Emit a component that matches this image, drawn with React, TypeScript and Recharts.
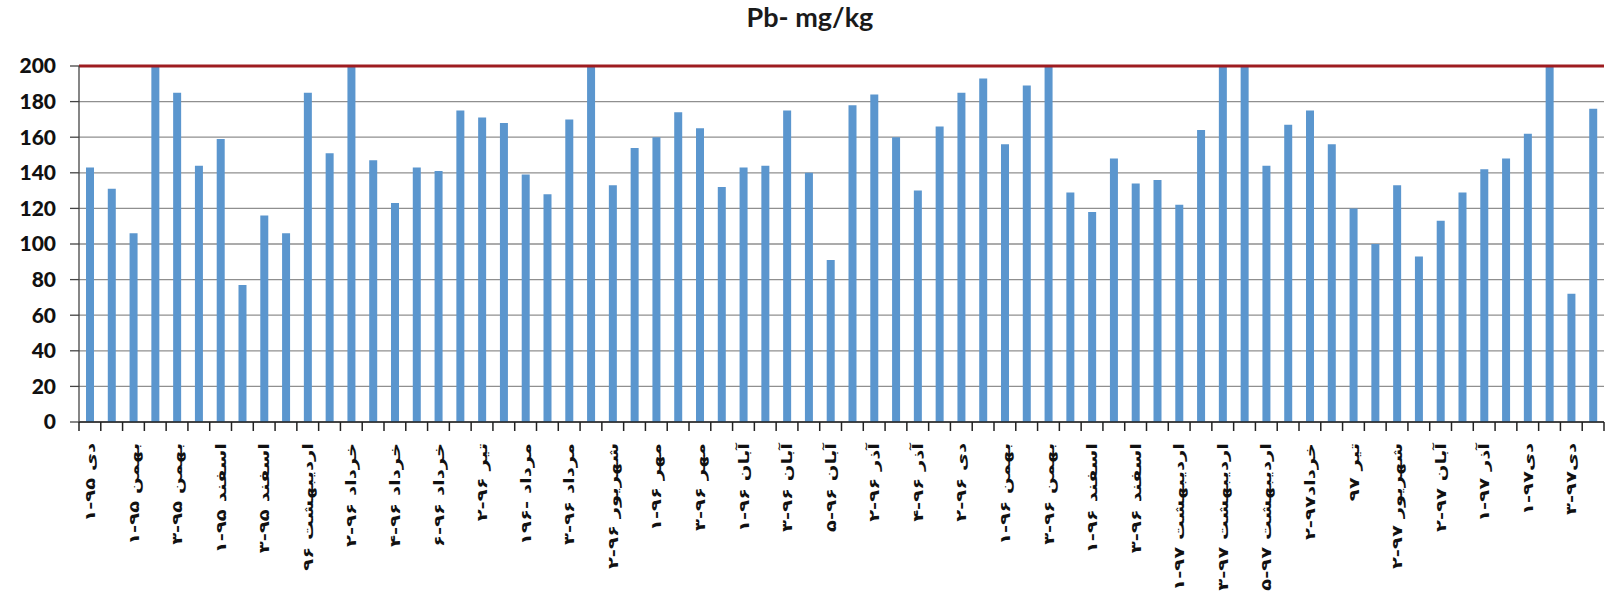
import React from 'react';
import { BarChart, Bar, XAxis, YAxis, CartesianGrid, ReferenceLine } from 'recharts';

if (typeof document !== 'undefined') {
  document.body.style.margin = '0';
}

const categories: string[] = [
  'دی ۹۵-۱', 'دی ۹۵-۲', 'بهمن ۹۵-۱', 'بهمن ۹۵-۲', 'بهمن ۹۵-۳', 'بهمن ۹۵-۴',
  'اسفند ۹۵-۱', 'اسفند ۹۵-۲', 'اسفند ۹۵-۳', 'فروردین ۹۶', 'اردیبهشت ۹۶', 'خرداد ۹۶-۱',
  'خرداد ۹۶-۲', 'خرداد ۹۶-۳', 'خرداد ۹۶-۴', 'خرداد ۹۶-۵', 'خرداد ۹۶-۶', 'تیر ۹۶-۱',
  'تیر ۹۶-۲', 'تیر ۹۶-۳', 'مرداد -۱۹۶', 'مرداد ۹۶-۲', 'مرداد ۹۶-۳', 'شهریور ۹۶-۱',
  'شهریور ۹۶-۲', 'شهریور ۹۶-۳', 'مهر ۹۶-۱', 'مهر ۹۶-۲', 'مهر ۹۶-۳', 'مهر ۹۶-۴',
  'آبان ۹۶-۱', 'آبان ۹۶-۲', 'آبان ۹۶-۳', 'آبان ۹۶-۴', 'آبان ۹۶-۵', 'آذر ۹۶-۱',
  'آذر ۹۶-۲', 'آذر ۹۶-۳', 'آذر ۹۶-۴', 'دی ۹۶-۱', 'دی ۹۶-۲', 'دی ۹۶-۳',
  'بهمن ۹۶-۱', 'بهمن ۹۶-۲', 'بهمن ۹۶-۳', 'بهمن ۹۶-۴', 'اسفند ۹۶-۱', 'اسفند ۹۶-۲',
  'اسفند ۹۶-۳', 'فروردین ۹۷', 'اردیبهشت ۹۷-۱', 'اردیبهشت ۹۷-۲', 'اردیبهشت ۹۷-۳', 'اردیبهشت ۹۷-۴',
  'اردیبهشت ۹۷-۵', 'خرداد۹۷-۱', 'خرداد۹۷-۲', 'خرداد۹۷-۳', 'تیر ۹۷', 'مرداد ۹۷',
  'شهریور ۹۷-۲', 'مهر ۹۷', 'آبان ۹۷-۲', 'آبان ۹۷-۳', 'آذر ۹۷-۱', 'آذر ۹۷-۲',
  'دی۹۷-۱', 'دی۹۷-۲', 'دی۹۷-۳', 'دی۹۷-۴',
];

const pbValues: number[] = [
  143, 131, 106, 200, 185, 144, 159, 77, 116, 106, 185, 151, 200, 147, 123, 143,
  141, 175, 171, 168, 139, 128, 170, 200, 133, 154, 160, 174, 165, 132, 143, 144, 175, 140,
  91, 178, 184, 160, 130, 166, 185, 193, 156, 189, 200, 129, 118, 148, 134, 136, 122, 164,
  200, 200, 144, 167, 175, 156, 120, 100, 133, 93, 113, 129, 142, 148, 162, 200, 72, 176,
];

const yTicks: number[] = [0, 20, 40, 60, 80, 100, 120, 140, 160, 180, 200];
const limitValue = 200;
const chartTitle = 'Pb- mg/kg';

const data = categories.map((name, i) => ({ name, pb: pbValues[i] }));

const CHART_W = 1609;
const CHART_H = 596;
const MARGIN = { top: 66, right: 5, left: 0, bottom: 0 };
const BAND = (CHART_W - 79 - MARGIN.right) / categories.length;

const XTick = (props: any) => {
  const { x, y, payload, index } = props;
  const half = payload && payload.offset ? payload.offset : BAND / 2;
  const label: string = payload.value;
  const shown = label.replace(/([۰-۹])-/g, '$1\u200F-').replace(/ -/g, ' \u200F-');
  const ty = y + 21;
  return (
    <g>
      <line x1={x - half} x2={x - half} y1={y} y2={y + 9} stroke="#222" strokeWidth={1.5} />
      {index === categories.length - 1 && (
        <line x1={x + half} x2={x + half} y1={y} y2={y + 9} stroke="#222" strokeWidth={1.5} />
      )}
      {index % 2 === 0 && (
        <text
          x={0}
          y={0}
          transform={`translate(${x}, ${ty}) rotate(-90) scale(1.4, 1)`}
          textAnchor="end"
          dy="0.36em"
          fontFamily="'DejaVu Sans', sans-serif"
          fontWeight="bold"
          fontSize={14}
          fill="#111"
        >
          {shown}
        </text>
      )}
    </g>
  );
};

export default function App() {
  return (
    <div style={{ position: 'relative', width: CHART_W, height: CHART_H, background: '#fff' }}>
      <div
        style={{
          position: 'absolute',
          top: 1,
          left: 0,
          width: 1620,
          textAlign: 'center',
          fontFamily: 'Lato, sans-serif',
          fontWeight: 700,
          fontSize: 27,
          lineHeight: '32px',
          color: '#1a1a1a',
        }}
      >
        {chartTitle}
      </div>
      <BarChart width={CHART_W} height={CHART_H} data={data} margin={MARGIN}>
        <CartesianGrid vertical={false} stroke="#8f8f8f" strokeWidth={1.3} />
        <XAxis
          dataKey="name"
          interval={0}
          height={CHART_H - 422}
          tickLine={false}
          tickSize={0}
          tickMargin={0}
          axisLine={{ stroke: '#222', strokeWidth: 1.5 }}
          tick={<XTick />}
        />
        <YAxis
          domain={[0, 200]}
          ticks={yTicks}
          width={79}
          tickSize={9}
          tickMargin={14}
          tickLine={{ stroke: '#444', strokeWidth: 1.3 }}
          axisLine={{ stroke: '#444', strokeWidth: 1.3 }}
          tick={{ fontFamily: 'Lato, sans-serif', fontWeight: 900, fontSize: 21, fill: '#111' }}
          interval={0}
        />
        <Bar dataKey="pb" fill="#5B96CE" barSize={8} isAnimationActive={false} />
        <ReferenceLine y={limitValue} stroke="#9E1C20" strokeWidth={3} ifOverflow="extendDomain" />
      </BarChart>
    </div>
  );
}
